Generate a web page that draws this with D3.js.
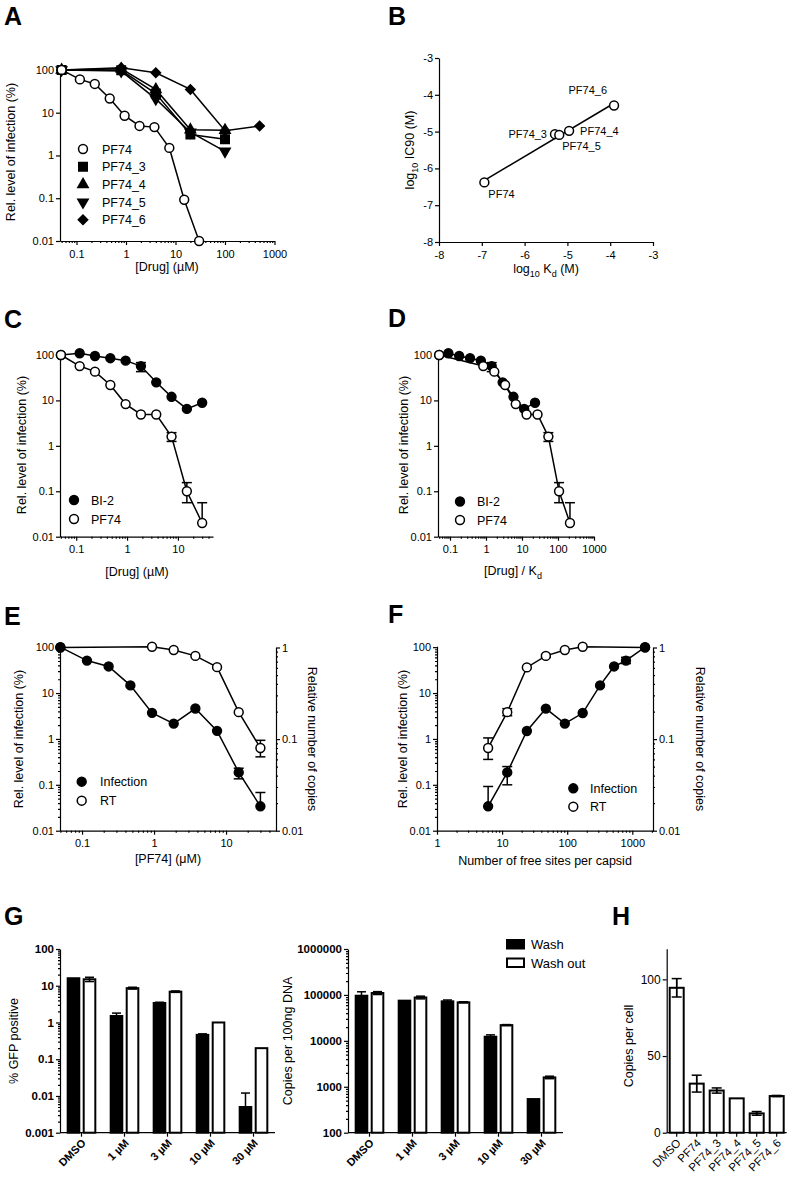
<!DOCTYPE html>
<html>
<head>
<meta charset="utf-8">
<script src="https://cdnjs.cloudflare.com/ajax/libs/d3/7.8.5/d3.min.js"></script>
<style>
  body { margin: 0; background: #fff; }
  svg text { font-family: "Liberation Sans", Arial, sans-serif; fill: #000; }
  .axis path, .axis line { stroke: #000; stroke-width: 1.2px; }
  .curve { fill: none; stroke: #000; stroke-width: 1.5px; }
  .err { stroke: #000; stroke-width: 1.5px; fill: none; }
</style>
</head>
<body>
<svg id="fig" width="794" height="1179"></svg>
<script>
// ---------- data ----------
// A
const pf74Conc   = [0.05, 0.117, 0.234, 0.469, 0.9375, 1.875, 3.75, 7.5, 15, 30];
const aPF74      = [100, 60, 47, 21.5, 8.5, 4.9, 4.6, 1.5, 0.092, 0.01];
const analogConc = [0.05, 0.8, 4, 20, 100];
const aPF74_3    = [100, 98, 28, 3.1, 2.4];
const aPF74_4    = [100, 106, 35, 4.0, 3.9];
const aPF74_5    = [100, 94, 21, 3.5, 1.25];
const pf74_6Conc = [0.05, 0.8, 4, 20, 100, 500];
const aPF74_6    = [100, 112, 86, 35, 3.8, 4.9];
const aLegend    = ["PF74", "PF74_3", "PF74_4", "PF74_5", "PF74_6"];

// B
const bNames = ["PF74", "PF74_3", "PF74_5", "PF74_4", "PF74_6"];
const bLogKd = [-6.94, -5.29, -5.19, -4.96, -3.91];
const bLogIC = [-6.38, -5.07, -5.09, -4.98, -4.29];
const bTicks = [-8, -7, -6, -5, -4, -3];

// C / D
const bi2Inf  = [100, 109, 95, 85, 75, 57, 25, 12, 6.5, 8.9];
const bi2Hi   = [null, null, null, null, null, 68, null, null, null, null];
const bi2Lo   = [null, null, null, null, null, 43, null, null, null, null];
const cPF74   = [100, 57, 43, 21.8, 8.3, 4.9, 4.9, 1.6, 0.1, 0.02];
const cPF74Hi = [null, null, null, null, null, null, null, 1.95, 0.155, 0.056];
const cPF74Lo = [null, null, null, null, null, null, null, 1.25, 0.056, null];
const bi2Ratio  = [0.05, 0.09, 0.18, 0.36, 0.72, 1.44, 2.9, 5.8, 11.5, 23];
const pf74Ratio = [0.05, 0.84, 1.7, 3.4, 6.7, 13.4, 27, 54, 107, 215];

// E
const eInf    = [100, 51, 38, 14.7, 3.7, 2.16, 4.6, 1.5, 0.186, 0.034];
const eInfHi  = [null, null, null, null, null, null, null, null, 0.23, 0.068];
const eInfLo  = [null, null, null, null, null, null, null, null, 0.135, null];
const rtConc  = [0.05, 0.9375, 1.875, 3.75, 7.5, 15, 30];
const eRT     = [1, 1.02, 0.94, 0.81, 0.61, 0.197, 0.08];
const eRTHi   = [null, null, null, null, null, null, 0.097];
const eRTLo   = [null, null, null, null, null, null, 0.064];

// F
const freeSites = [6.1, 12, 24, 47, 92, 173, 320, 525, 800, 1570];
const fInf      = [0.034, 0.186, 1.49, 4.58, 2.16, 3.67, 14.7, 38, 51, 100];
const fInfHi    = [0.092, 0.25, null, null, null, null, null, null, 60, null];
const fInfLo    = [null, 0.1, null, null, null, null, null, null, 44, null];
const rtSites   = [6.1, 12, 24, 47, 92, 173, 1570];
const fRT       = [0.08, 0.197, 0.606, 0.81, 0.94, 1.02, 1];
const fRTHi     = [0.103, 0.215, null, 0.84, null, null, null];
const fRTLo     = [0.06, 0.18, null, 0.78, null, null, null];

// G
const gGroups        = ["DMSO", "1 µM", "3 µM", "10 µM", "30 µM"];
const gSeries        = ["Wash", "Wash out"];
const gfpWash        = [16, 1.5, 3.4, 0.46, 0.005];
const gfpWashErr     = [0, 0.3, 0.15, 0.03, 0.007];
const gfpWashout     = [15, 8.6, 6.9, 1.0, 0.2];
const gfpWashoutErr  = [2, 0.5, 0.3, 0, 0];
const copWash        = [96000, 75000, 72500, 12300, 540];
const copWashErr     = [21000, 0, 5000, 1200, 0];
const copWashout     = [110000, 88000, 69000, 22000, 1600];
const copWashoutErr  = [8000, 6000, 2000, 600, 100];

// H
const hLabels = ["DMSO", "PF74", "PF74_3", "PF74_4", "PF74_5", "PF74_6"];
const hVals   = [94.5, 32, 27.5, 22.4, 12.6, 23.9];
const hErr    = [6, 5.5, 1.7, 0, 1.2, 0.4];
const hTicks  = [0, 50, 100];

// tick value lists
const infTicks   = [0.01, 0.1, 1, 10, 100];
const copyTicks  = [0.01, 0.1, 1];
const gfpTicks   = [0.001, 0.01, 0.1, 1, 10, 100];
const dnaTicks   = [100, 1000, 10000, 100000, 1000000];

// ---------- helpers ----------
const svg = d3.select("#fig");
const fmt = d => String(d);

function minorTicks(scale) {
  const dom = scale.domain(), lo = Math.min(...dom), hi = Math.max(...dom);
  const out = [];
  for (let e = Math.floor(Math.log10(lo)); e <= Math.ceil(Math.log10(hi)); e++) {
    for (let m = 2; m <= 9; m++) {
      const v = m * Math.pow(10, e);
      if (v >= lo && v <= hi) out.push(v);
    }
  }
  return out;
}

function axis(gen, pos, orient, size, bold) {
  const tr = (orient === "bottom") ? `translate(0,${pos})` : `translate(${pos},0)`;
  const g = svg.append("g").attr("class", "axis").attr("transform", tr).call(gen);
  g.attr("font-size", size || 11).attr("font-family", null);
  if (bold) g.selectAll("text").attr("font-weight", "bold");
  return g;
}

function logAxis(scale, pos, orient, majors, opts = {}) {
  const mk = orient === "bottom" ? d3.axisBottom : orient === "left" ? d3.axisLeft : d3.axisRight;
  axis(mk(scale).tickValues(majors).tickFormat(fmt).tickSize(4).tickSizeOuter(0).tickPadding(opts.pad || 2),
       pos, orient, opts.size, opts.bold);
  if (opts.minor !== false) {
    const g = axis(mk(scale).tickValues(minorTicks(scale)).tickFormat("").tickSize(2).tickSizeOuter(0), pos, orient);
    g.select(".domain").remove();
  }
}

function symbolPath(kind) {
  if (kind === "square") return d3.symbol(d3.symbolSquare, 72)();
  if (kind === "triangle" || kind === "down") return d3.symbol(d3.symbolTriangle, 46)();
  if (kind === "diamond") return d3.symbol(d3.symbolSquare, 44)();
  return d3.symbol(d3.symbolCircle, 62)();
}
function symbolRot(kind) {
  return kind === "down" ? " rotate(180)" : kind === "diamond" ? " rotate(45)" : "";
}

function errBars(x, y, xs, ys, hi, lo) {
  xs.forEach((xv, i) => {
    if (hi[i] == null && lo[i] == null) return;
    const cx = x(xv), top = y(hi[i] != null ? hi[i] : ys[i]), bot = y(lo[i] != null ? lo[i] : ys[i]);
    svg.append("line").attr("class", "err").attr("x1", cx).attr("x2", cx).attr("y1", top).attr("y2", bot);
    if (hi[i] != null) svg.append("line").attr("class", "err").attr("x1", cx - 5).attr("x2", cx + 5).attr("y1", top).attr("y2", top);
    if (lo[i] != null) svg.append("line").attr("class", "err").attr("x1", cx - 5).attr("x2", cx + 5).attr("y1", bot).attr("y2", bot);
  });
}

function series(x, y, xs, ys, kind, filled, noLine) {
  const pts = xs.map((d, i) => [d, ys[i]]);
  if (!noLine) svg.append("path").datum(pts).attr("class", "curve")
    .attr("d", d3.line().x(d => x(d[0])).y(d => y(d[1])));
  svg.append("g").selectAll("path").data(pts).join("path")
    .attr("transform", d => `translate(${x(d[0])},${y(d[1])})` + symbolRot(kind))
    .attr("d", symbolPath(kind))
    .attr("fill", filled ? "#000" : "#fff").attr("stroke", "#000").attr("stroke-width", 1.5);
}

function marker(cx, cy, kind, filled) {
  svg.append("path").attr("transform", `translate(${cx},${cy})` + symbolRot(kind))
    .attr("d", symbolPath(kind)).attr("fill", filled ? "#000" : "#fff")
    .attr("stroke", "#000").attr("stroke-width", 1.5);
}

function label(x, y, parts, opts = {}) {
  const t = svg.append("text").attr("font-size", opts.size || 12.5)
    .attr("text-anchor", opts.anchor || "middle");
  if (opts.rotate) t.attr("transform", `translate(${x},${y}) rotate(${opts.rotate})`);
  else t.attr("x", x).attr("y", y);
  if (opts.bold) t.attr("font-weight", "bold");
  if (opts.rotate) t.attr("dy", "0.35em");
  let sub = false;
  (Array.isArray(parts) ? parts : [parts]).forEach(p => {
    const isSub = typeof p === "object";
    const s = t.append("tspan").text(isSub ? p.sub : p);
    if (isSub) s.attr("font-size", "0.72em").attr("dy", 3.5);
    else if (sub) s.attr("dy", -3.5);
    sub = isSub;
  });
  return t;
}

function letter(t, x, y) { label(x, y, t, { size: 25, bold: true, anchor: "start" }); }

// ---------- Panel A ----------
letter("A", 4, 25);
const xA = d3.scaleLog().domain([0.0464, 1000]).range([60, 274.5]);
const yA = d3.scaleLog().domain([0.01, 117]).range([241, 67]);
logAxis(xA, 241, "bottom", [0.1, 1, 10, 100, 1000], { pad: 5 });
logAxis(yA, 60, "left", infTicks, { minor: false });
series(xA, yA, pf74_6Conc, aPF74_6, "diamond", true);
series(xA, yA, analogConc, aPF74_5, "down", true);
series(xA, yA, analogConc, aPF74_4, "triangle", true);
series(xA, yA, analogConc, aPF74_3, "square", true);
series(xA, yA, pf74Conc, aPF74, "circle", false);
const aKinds = ["circle", "square", "triangle", "down", "diamond"];
aLegend.forEach((n, i) => {
  const cy = 149 + i * 17.7;
  marker(83, cy, aKinds[i], i > 0);
  label(102, cy + 4.5, n, { anchor: "start" });
});
label(11, 152, "Rel. level of infection (%)", { rotate: -90 });
label(167, 271, "[Drug] (µM)");

// ---------- Panel B ----------
letter("B", 388, 25);
const xB = d3.scaleLinear().domain([-8, -3]).range([439, 653]);
const yB = d3.scaleLinear().domain([-8, -3]).range([242, 58]);
axis(d3.axisBottom(xB).tickValues(bTicks).tickFormat(fmt).tickSize(4).tickSizeOuter(0).tickPadding(5), 242, "bottom");
axis(d3.axisLeft(yB).tickValues(bTicks).tickFormat(fmt).tickSize(4).tickSizeOuter(0).tickPadding(2), 439, "left");
{
  const mx = d3.mean(bLogKd), my = d3.mean(bLogIC);
  const slope = d3.sum(bLogKd, (d, i) => (d - mx) * (bLogIC[i] - my)) / d3.sum(bLogKd, d => (d - mx) ** 2);
  const ext = d3.extent(bLogKd);
  svg.append("path").datum(ext.map(v => [v, my + slope * (v - mx)])).attr("class", "curve")
    .attr("d", d3.line().x(d => xB(d[0])).y(d => yB(d[1])));
}
series(xB, yB, bLogKd, bLogIC, "circle", false, true);
const bLabelPos = [[4, 16, "start"], [-8, 4, "end"], [3, 15, "start"], [11, 4, "start"], [-7, -11, "end"]];
bNames.forEach((n, i) => {
  const p = bLabelPos[i];
  label(xB(bLogKd[i]) + p[0], yB(bLogIC[i]) + p[1], n, { size: 11, anchor: p[2] });
});
label(410, 150, ["log", { sub: "10" }, " IC90 (M)"], { rotate: -90 });
label(546, 273, ["log", { sub: "10" }, " K", { sub: "d" }, " (M)"]);

// ---------- Panel C ----------
letter("C", 4, 328);
const xC = d3.scaleLog().domain([0.048, 49]).range([60, 213]);
const yC = d3.scaleLog().domain([0.01, 110]).range([536.7, 353.1]);
logAxis(xC, 536.7, "bottom", [0.1, 1, 10], { pad: 5 });
logAxis(yC, 60, "left", infTicks, { minor: false });
errBars(xC, yC, pf74Conc, bi2Inf, bi2Hi, bi2Lo);
errBars(xC, yC, pf74Conc, cPF74, cPF74Hi, cPF74Lo);
series(xC, yC, pf74Conc, bi2Inf, "circle", true);
series(xC, yC, pf74Conc, cPF74, "circle", false);
marker(74, 500, "circle", true); label(91, 504.5, "BI-2", { anchor: "start" });
marker(74, 519, "circle", false); label(91, 523.5, "PF74", { anchor: "start" });
label(22, 445, "Rel. level of infection (%)", { rotate: -90 });
label(137, 576, "[Drug] (µM)");

// ---------- Panel D ----------
letter("D", 388, 327);
const xD = d3.scaleLog().domain([0.0464, 1000]).range([438, 594]);
const yD = d3.scaleLog().domain([0.01, 110]).range([536.7, 353.1]);
logAxis(xD, 536.7, "bottom", [0.1, 1, 10, 100, 1000], { pad: 5 });
logAxis(yD, 438, "left", infTicks, { minor: false });
errBars(xD, yD, bi2Ratio, bi2Inf, bi2Hi, bi2Lo);
errBars(xD, yD, pf74Ratio, cPF74, cPF74Hi, cPF74Lo);
series(xD, yD, bi2Ratio, bi2Inf, "circle", true);
series(xD, yD, pf74Ratio, cPF74, "circle", false);
marker(460, 501.5, "circle", true); label(477, 506, "BI-2", { anchor: "start" });
marker(460, 520, "circle", false); label(477, 524.5, "PF74", { anchor: "start" });
label(404, 445, "Rel. level of infection (%)", { rotate: -90 });
label(513, 575, ["[Drug] / K", { sub: "d" }]);

// ---------- Panel E ----------
letter("E", 4, 625);
const xE = d3.scaleLog().domain([0.0494, 49.4]).range([60, 276]);
const yE = d3.scaleLog().domain([0.01, 105]).range([830.7, 646.2]);
const yER = d3.scaleLog().domain([0.01, 1]).range([830.7, 647.5]);
logAxis(xE, 830.7, "bottom", [0.1, 1, 10], { pad: 5 });
logAxis(yE, 60, "left", infTicks);
logAxis(yER, 276, "right", copyTicks);
errBars(xE, yE, pf74Conc, eInf, eInfHi, eInfLo);
errBars(xE, yER, rtConc, eRT, eRTHi, eRTLo);
series(xE, yER, rtConc, eRT, "circle", false);
series(xE, yE, pf74Conc, eInf, "circle", true);
marker(81.7, 781.7, "circle", true); label(100, 786.2, "Infection", { anchor: "start" });
marker(81.7, 800.7, "circle", false); label(100, 805.2, "RT", { anchor: "start" });
label(19, 739, "Rel. level of infection (%)", { rotate: -90 });
label(312, 739, "Relative number of copies", { rotate: 90 });
label(168, 863, "[PF74] (μM)");

// ---------- Panel F ----------
letter("F", 388, 623);
const xF = d3.scaleLog().domain([1, 2080]).range([437, 653]);
const yF = d3.scaleLog().domain([0.01, 105]).range([830.7, 646.2]);
const yFR = d3.scaleLog().domain([0.01, 1]).range([830.7, 647.5]);
logAxis(xF, 830.7, "bottom", [1, 10, 100, 1000], { pad: 5 });
logAxis(yF, 437, "left", infTicks);
logAxis(yFR, 653, "right", copyTicks);
errBars(xF, yF, freeSites, fInf, fInfHi, fInfLo);
errBars(xF, yFR, rtSites, fRT, fRTHi, fRTLo);
series(xF, yFR, rtSites, fRT, "circle", false);
series(xF, yF, freeSites, fInf, "circle", true);
marker(573.3, 788.3, "circle", true); label(590, 792.8, "Infection", { anchor: "start" });
marker(573.3, 806.7, "circle", false); label(590, 811.2, "RT", { anchor: "start" });
label(403, 739, "Rel. level of infection (%)", { rotate: -90 });
label(700, 739, "Relative number of copies", { rotate: 90 });
label(545, 865, "Number of free sites per capsid");

// ---------- Panel G ----------
letter("G", 4, 925);
function groupedBars(x0, yScale, washVals, washErr, outVals, outErr, ticks) {
  const xg = d3.scaleBand().domain(gGroups).range([x0, x0 + 215]);
  const xi = d3.scaleBand().domain(gSeries).range([0, xg.bandwidth()]).paddingInner(0.275).paddingOuter(0.48);
  const base = yScale.range()[0];
  const rows = [];
  gGroups.forEach((g, i) => {
    rows.push({ g, s: "Wash", v: washVals[i], e: washErr[i] });
    rows.push({ g, s: "Wash out", v: outVals[i], e: outErr[i] });
  });
  rows.forEach(r => {
    const cx = xg(r.g) + xi(r.s) + xi.bandwidth() / 2;
    if (r.e > 0) {
      const top = yScale(r.v + r.e), bot = yScale(Math.max(r.v - r.e, yScale.domain()[0]));
      svg.append("line").attr("class", "err").attr("x1", cx).attr("x2", cx).attr("y1", top).attr("y2", bot);
      svg.append("line").attr("class", "err").attr("x1", cx - 4.5).attr("x2", cx + 4.5).attr("y1", top).attr("y2", top);
    }
  });
  svg.append("g").selectAll("rect").data(rows).join("rect")
    .attr("x", r => xg(r.g) + xi(r.s)).attr("width", xi.bandwidth())
    .attr("y", r => yScale(r.v)).attr("height", r => base - yScale(r.v))
    .attr("fill", r => r.s === "Wash" ? "#000" : "#fff").attr("stroke", "#000").attr("stroke-width", 2);
  rows.forEach(r => {
    if (r.e > 0 && r.s === "Wash out") {
      const cx = xg(r.g) + xi(r.s) + xi.bandwidth() / 2;
      const bot = yScale(Math.max(r.v - r.e, yScale.domain()[0]));
      svg.append("line").attr("class", "err").attr("x1", cx).attr("x2", cx).attr("y1", yScale(r.v)).attr("y2", bot);
      svg.append("line").attr("class", "err").attr("x1", cx - 4.5).attr("x2", cx + 4.5).attr("y1", bot).attr("y2", bot);
    }
  });
  const ga = axis(d3.axisBottom(xg).tickSize(4).tickSizeOuter(0).tickFormat(""), base, "bottom");
  ga.select(".domain").attr("d", `M${x0},0H${x0 + 215}`);
  svg.append("g").selectAll("text").data(gGroups).join("text")
    .attr("transform", d => `translate(${xg(d) + xg.bandwidth() / 2 + 5},${base + 11}) rotate(-45)`)
    .attr("text-anchor", "end").attr("font-weight", "bold").attr("font-size", 11).text(d => d);
  logAxis(yScale, x0, "left", ticks, { bold: true, size: 11.5 });
}
const yG1 = d3.scaleLog().domain([0.001, 100]).range([1132.7, 949]);
groupedBars(60, yG1, gfpWash, gfpWashErr, gfpWashout, gfpWashoutErr, gfpTicks);
label(14, 1041, "% GFP positive", { rotate: -90 });
const yG2 = d3.scaleLog().domain([100, 1000000]).range([1132.7, 949]);
groupedBars(348, yG2, copWash, copWashErr, copWashout, copWashoutErr, dnaTicks);
label(288, 1041, "Copies per 100ng DNA", { rotate: -90 });
gSeries.forEach((s, i) => {
  svg.append("rect").attr("x", 507).attr("y", 940 + i * 18.5).attr("width", 17).attr("height", 8.5)
    .attr("fill", i === 0 ? "#000" : "#fff").attr("stroke", "#000").attr("stroke-width", 2);
  label(531, 949 + i * 18.5, s, { anchor: "start", size: 13 });
});

// ---------- Panel H ----------
letter("H", 612, 925);
const xH = d3.scaleBand().domain(hLabels).range([666.7, 786.7]).paddingInner(0.3).paddingOuter(0.15);
const yH = d3.scaleLinear().domain([0, 120]).range([1132.7, 948.7]);
hLabels.forEach((n, i) => {
  if (hErr[i] <= 0) return;
  const cx = xH(n) + xH.bandwidth() / 2;
  svg.append("line").attr("class", "err").attr("x1", cx).attr("x2", cx).attr("y1", yH(hVals[i] + hErr[i])).attr("y2", yH(hVals[i] - hErr[i]));
  [hVals[i] + hErr[i], hVals[i] - hErr[i]].forEach(v =>
    svg.append("line").attr("class", "err").attr("x1", cx - 5).attr("x2", cx + 5).attr("y1", yH(v)).attr("y2", yH(v)));
});
svg.append("g").selectAll("rect").data(hLabels).join("rect")
  .attr("x", d => xH(d)).attr("width", xH.bandwidth())
  .attr("y", (d, i) => yH(hVals[i])).attr("height", (d, i) => yH(0) - yH(hVals[i]))
  .attr("fill", "none").attr("stroke", "#000").attr("stroke-width", 2);
hLabels.forEach((n, i) => {
  if (hErr[i] <= 0) return;
  const cx = xH(n) + xH.bandwidth() / 2;
  svg.append("line").attr("class", "err").attr("x1", cx).attr("x2", cx).attr("y1", yH(hVals[i] + hErr[i])).attr("y2", yH(hVals[i] - hErr[i]));
});
axis(d3.axisBottom(xH).tickSize(4).tickSizeOuter(0).tickFormat(""), 1132.7, "bottom")
  .select(".domain").attr("d", "M666.7,0H786.7");
svg.append("g").selectAll("text").data(hLabels).join("text")
  .attr("transform", d => `translate(${xH(d) + xH.bandwidth() / 2 + 5},${1132.7 + 11}) rotate(-45)`)
  .attr("text-anchor", "end").attr("font-size", 11.5).text(d => d);
axis(d3.axisLeft(yH).tickValues(hTicks).tickFormat(fmt).tickSize(4).tickSizeOuter(0).tickPadding(2), 666.7, "left", 12);
label(629, 1046, "Copies per cell", { rotate: -90 });
</script>
</body>
</html>
